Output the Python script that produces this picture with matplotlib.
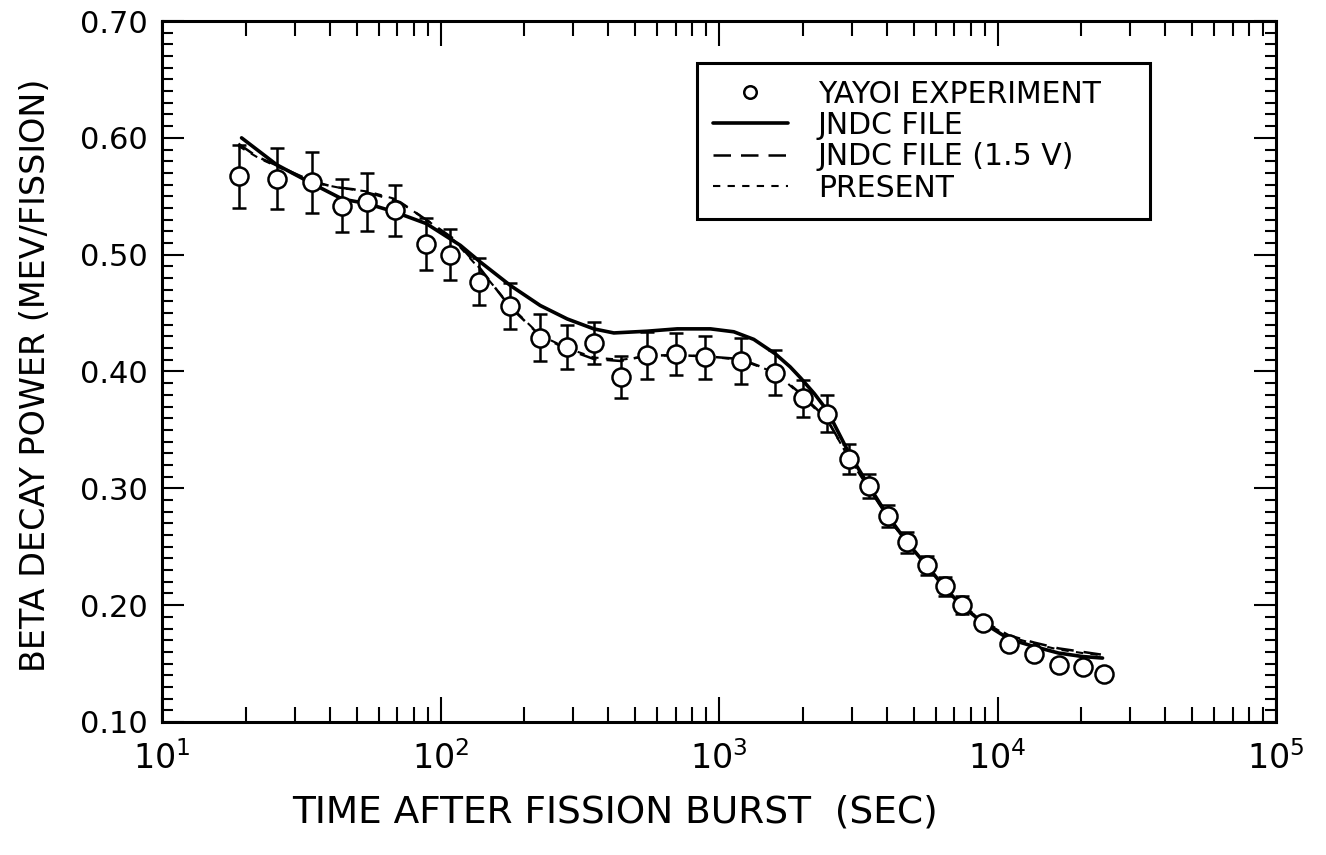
import numpy as np
import matplotlib
matplotlib.use("Agg")
import matplotlib.pyplot as plt
from matplotlib.ticker import LogLocator, MultipleLocator, FixedLocator

# YAYOI experiment (time in sec, MeV/fission, error)
t_exp = [18.9, 25.8, 34.5, 44.4, 54.4, 68.4, 88.9, 108.5, 138, 178, 228, 285,
         355, 445, 552, 698, 888, 1195, 1595, 2007, 2432, 2930, 3453, 4043,
         4746, 5600, 6474, 7475, 8902, 11005, 13520, 16560, 20200, 24040]
p_exp = [0.567, 0.565, 0.562, 0.542, 0.545, 0.538, 0.509, 0.500, 0.477, 0.456,
         0.429, 0.421, 0.424, 0.395, 0.414, 0.415, 0.412, 0.409, 0.399, 0.377,
         0.364, 0.325, 0.302, 0.276, 0.254, 0.234, 0.216, 0.200, 0.185, 0.167,
         0.158, 0.149, 0.147, 0.141]
e_exp = [0.027, 0.026, 0.026, 0.023, 0.025, 0.022, 0.022, 0.022, 0.020, 0.020,
         0.020, 0.019, 0.018, 0.018, 0.020, 0.018, 0.018, 0.020, 0.019, 0.016,
         0.0155, 0.013, 0.010, 0.0095, 0.009, 0.008, 0.0078, 0.008, 0, 0,
         0, 0, 0, 0]

# JNDC FILE
t_jndc = [19.3, 25.8, 34.5, 44.5, 54.4, 68.4, 88.9, 117.8, 139, 178, 228, 285,
          355, 419, 552, 708, 932, 1130, 1333, 1595, 1800, 1963, 2200, 2448,
          2930, 3453, 4043, 4746, 5600, 6474, 7475, 8902, 11005, 13520, 16560,
          20200, 23830]
p_jndc = [0.600, 0.577, 0.561, 0.5475, 0.5438, 0.5366, 0.5266, 0.508, 0.4937,
          0.4737, 0.4565, 0.445, 0.4365, 0.4330, 0.4345, 0.4365, 0.4365, 0.4340,
          0.4275, 0.4150, 0.4040, 0.3945, 0.3810, 0.3665, 0.330, 0.302, 0.2762,
          0.2534, 0.2333, 0.2147, 0.199, 0.1847, 0.171, 0.1646, 0.159, 0.156,
          0.1547]

# JNDC FILE (1.5 V)
t_jv = [18.8, 21.9, 34.5, 41.3, 48.7, 59.1, 71.6, 89.3, 111.4, 139, 178, 228,
        285, 355, 443, 552, 708, 888, 1195, 1595, 2007, 2448, 2930, 3453, 4043,
        4746, 5600, 6474, 7475, 8902, 11005, 13520, 16560, 20200, 23830]
p_jv = [0.595, 0.584, 0.563, 0.558, 0.556, 0.551, 0.545, 0.5295, 0.5137, 0.488,
        0.455, 0.4307, 0.419, 0.4107, 0.409, 0.4136, 0.414, 0.413, 0.4107,
        0.3993, 0.379, 0.359, 0.326, 0.300, 0.275, 0.253, 0.233, 0.215, 0.200,
        0.186, 0.174, 0.168, 0.163, 0.160, 0.1575]

# PRESENT
t_pr = [18.8, 22.5, 34.5, 44.0, 55.0, 68.0, 89.0, 112.0, 139, 178, 228, 285,
        355, 445, 552, 708, 888, 1195, 1595, 2007, 2448, 2930, 3453, 4043,
        4746, 5600, 6474, 7475, 8902, 11005, 13520, 16560, 20200, 23830]
p_pr = [0.593, 0.582, 0.562, 0.557, 0.554, 0.548, 0.530, 0.512, 0.487,
        0.456, 0.431, 0.420, 0.412, 0.410, 0.413, 0.414, 0.413, 0.410,
        0.399, 0.378, 0.358, 0.326, 0.301, 0.275, 0.253, 0.233, 0.215, 0.199,
        0.186, 0.173, 0.167, 0.162, 0.159, 0.157]

fig = plt.figure(figsize=(13.26, 8.55), dpi=100)
ax = fig.add_axes([0.1222, 0.1556, 0.8401, 0.8198])

ax.plot(t_jndc, p_jndc, color='black', lw=2.6, solid_capstyle='round',
        solid_joinstyle='round', label='JNDC FILE', zorder=3)
ax.plot(t_jv, p_jv, color='black', lw=1.8, dashes=(7, 4),
        label='JNDC FILE (1.5 V)', zorder=3)
ax.plot(t_pr, p_pr, color='black', lw=1.5, dashes=(3.5, 3.5),
        label='PRESENT', zorder=3)
ax.errorbar(t_exp, p_exp, yerr=e_exp, fmt='none', ecolor='black',
            elinewidth=1.8, capsize=5, capthick=1.8, zorder=4)
ax.plot(t_exp, p_exp, 'o', ms=13, mfc='white', mec='black', mew=1.8,
        zorder=5, label='YAYOI EXPERIMENT')

ax.set_xscale('log')
ax.set_xlim(10, 1e5)
ax.set_ylim(0.10, 0.70)

ax.xaxis.set_major_locator(FixedLocator([10, 100, 1000, 1e4, 1e5]))
ax.xaxis.set_minor_locator(LogLocator(base=10, subs=np.arange(2, 10), numticks=20))
ax.set_xticklabels([r'$10^{1}$', r'$10^{2}$', r'$10^{3}$', r'$10^{4}$', r'$10^{5}$'])
ax.yaxis.set_major_locator(MultipleLocator(0.1))
ax.yaxis.set_minor_locator(MultipleLocator(0.01))
ax.yaxis.set_major_formatter(matplotlib.ticker.FormatStrFormatter('%.2f'))

ax.tick_params(axis='both', which='both', direction='in', top=True, right=True,
               width=1.5, colors='black')
ax.tick_params(axis='x', which='major', length=18, labelsize=24, pad=14)
ax.tick_params(axis='x', which='minor', length=11)
ax.tick_params(axis='y', which='major', length=16, labelsize=22, pad=10)
ax.tick_params(axis='y', which='minor', length=8)
for s in ax.spines.values():
    s.set_linewidth(2.2)

ax.set_xlabel('TIME AFTER FISSION BURST  (SEC)', fontsize=27)
ax.xaxis.set_label_coords(0.407, -0.104)
ax.set_ylabel('BETA DECAY POWER (MEV/FISSION)', fontsize=24)
ax.yaxis.set_label_coords(-0.0987, 0.495)

handles, labels = ax.get_legend_handles_labels()
order = [3, 0, 1, 2]
leg = ax.legend([handles[i] for i in order], [labels[i] for i in order],
                loc='upper left', bbox_to_anchor=(0.48, 0.723, 0.407, 0.217),
                mode='expand', fontsize=21.5, framealpha=1,
                frameon=True, fancybox=False, edgecolor='black',
                handlelength=2.5, handletextpad=1.0, labelspacing=0.08,
                borderpad=0.55, borderaxespad=0)
leg.get_frame().set_linewidth(2.2)
leg.legend_handles[0].set_markersize(9)

fig.savefig('out.png', dpi=100)
